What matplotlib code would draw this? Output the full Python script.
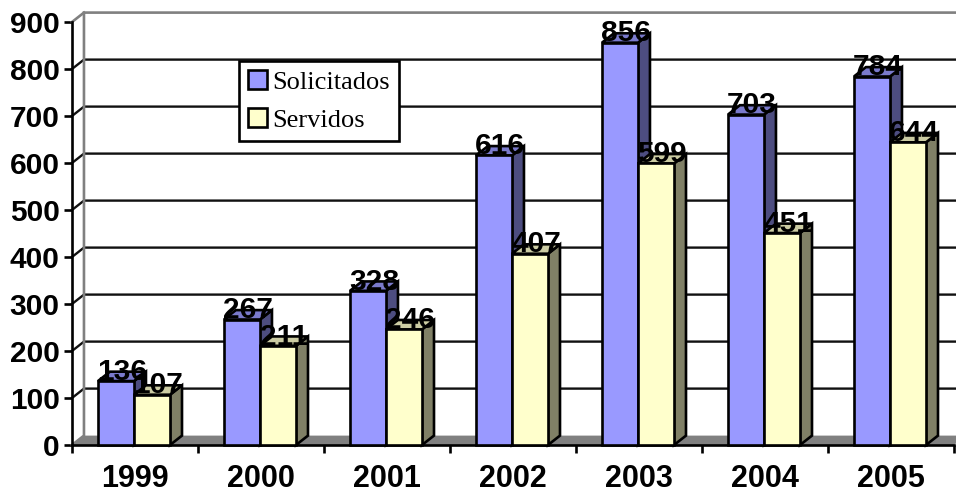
import matplotlib.pyplot as plt
from matplotlib.patches import Polygon, Patch

years = ['1999', '2000', '2001', '2002', '2003', '2004', '2005']
solicitados = [136, 267, 328, 616, 856, 703, 784]
servidos = [107, 211, 246, 407, 599, 451, 644]
y_ticks = list(range(0, 1000, 100))

BLUE, BLUE_SIDE, BLUE_TOP = '#9999ff', '#4d4d80', '#7a7acc'
YEL, YEL_SIDE, YEL_TOP = '#ffffcc', '#808066', '#cccca3'
DX, DY = 0.095, 20  # fake 3d depth, in data units
BW = 0.286
LW = 1.9

plt.rcParams['font.family'] = ['Liberation Sans', 'DejaVu Sans']

fig = plt.figure(figsize=(9.56, 4.93), dpi=100)
ax = fig.add_axes([72 / 956, (493 - 445) / 493, 882 / 956, 423 / 493])
ax.set_xlim(0, 7)
ax.set_ylim(0, 900)
for s in ax.spines.values():
    s.set_visible(False)


def add_poly(pts, color, z):
    ax.add_patch(Polygon(pts, closed=True, facecolor=color, edgecolor='black',
                         linewidth=LW, joinstyle='miter', zorder=z, clip_on=False))


# walls and floor
ax.add_patch(Polygon([(0, 0), (7, 0), (7 + DX, DY), (DX, DY)], closed=True,
                     facecolor='#808080', edgecolor='none', zorder=1, clip_on=False))
for v in y_ticks[1:-1]:
    ax.plot([0, DX, 7 + DX], [v, v + DY, v + DY], color='#111111', lw=1.7, zorder=2,
            clip_on=False, solid_joinstyle='miter')
ax.plot([0, DX, DX, 7 + DX], [0, DY, 900 + DY, 900 + DY], color='#808080', lw=LW,
        zorder=2, clip_on=False, solid_joinstyle='miter')
ax.plot([0, DX], [900, 900 + DY], color='#808080', lw=LW, zorder=2, clip_on=False)
ax.plot([0, 0], [0, 900], color='black', lw=LW, zorder=3, clip_on=False)
ax.plot([0, 7], [0, 0], color='black', lw=LW, zorder=3, clip_on=False)

# bars, left to right so the nearer ones cover the sides
z = 5
for i, year in enumerate(years):
    x0 = i + 0.206
    for k, (val, front, side, top) in enumerate([
            (solicitados[i], BLUE, BLUE_SIDE, BLUE_TOP),
            (servidos[i], YEL, YEL_SIDE, YEL_TOP)]):
        x = x0 + k * BW
        add_poly([(x + BW, 0), (x + BW + DX, DY), (x + BW + DX, val + DY), (x + BW, val)], side, z)
        add_poly([(x, val), (x + DX, val + DY), (x + BW + DX, val + DY), (x + BW, val)], top, z)
        ax.bar(x, val, width=BW, align='edge', color=front, edgecolor='black',
               linewidth=LW, zorder=z + 0.5, clip_on=False)
        z += 1

# value labels sit on top of everything
for i in range(len(years)):
    x0 = i + 0.206
    for k, val in enumerate([solicitados[i], servidos[i]]):
        ax.text(x0 + k * BW + BW / 2 + DX / 2, val - 10, str(val), ha='center', va='bottom',
                fontsize=21.5, fontweight='bold', color='black', zorder=50,
                linespacing=1, clip_on=False)

ax.set_yticks(y_ticks)
ax.set_xticks(range(8))
ax.set_xticklabels([])
ax.tick_params(axis='y', length=6, width=LW, labelsize=21.5, pad=3)
ax.tick_params(axis='x', length=6, width=LW)
for lab in ax.get_yticklabels():
    lab.set_fontweight('bold')
for i, year in enumerate(years):
    ax.annotate(year, (i + 0.5, 0), xytext=(0, -24.5), textcoords='offset points', ha='center',
                va='center', fontsize=22, fontweight='bold', annotation_clip=False)

handles = [Patch(facecolor=BLUE, edgecolor='black', linewidth=LW, label='Solicitados'),
           Patch(facecolor=YEL, edgecolor='black', linewidth=LW, label='Servidos')]
leg = ax.legend(handles=handles, loc='upper left', bbox_to_anchor=((239 - 72) / 882, (445 - 61) / 423),
                borderaxespad=0, fancybox=False, framealpha=1, edgecolor='black',
                handlelength=0.7, handleheight=0.7, handletextpad=0.2, borderpad=0.35,
                labelspacing=0.55, prop={'family': 'Liberation Serif', 'size': 19})
leg.get_frame().set_linewidth(LW)
leg.set_zorder(4)

fig.savefig('out.png', dpi=100)
